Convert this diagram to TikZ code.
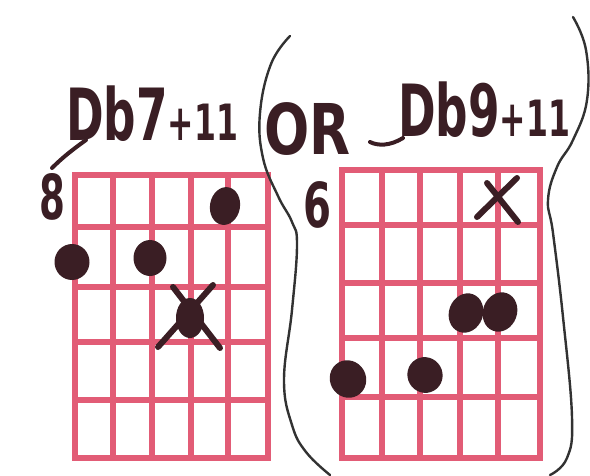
\documentclass[tikz,border=0pt]{standalone}
\usepackage{fontspec}
\setmainfont{DejaVu Sans}
\usetikzlibrary{shapes.geometric}
\definecolor{ink}{RGB}{58,30,36}
\definecolor{gridred}{RGB}{226,92,118}
\definecolor{pen}{RGB}{50,50,50}
\tikzset{
  gridline/.style={draw=gridred, line width=5.5pt, line cap=rect},
  blob/.style={ellipse, fill=ink, inner sep=0pt},
  xstroke/.style={draw=ink, line width=6pt, line cap=round},
  paren/.style={draw=pen, line width=2.4pt, line cap=round},
  hand/.style={text=ink, font=\bfseries, inner sep=0pt, anchor=base west},
}
\begin{document}
\begin{tikzpicture}[x=1pt, y=-1pt]
\useasboundingbox[fill=white] (0,0) rectangle (590,475);

% ---- left grid ----
\foreach \xx in {75,113,152,191,228,268}
  \draw[gridline] (\xx,175) -- (\xx,458);
\foreach \yy in {175,227,287,342,400,458}
  \draw[gridline] (75,\yy) -- (268,\yy);

% ---- right grid ----
\foreach \xx in {342,382,420,460,498,540}
  \draw[gridline] (\xx,170) -- (\xx,458);
\foreach \yy in {170,225,283,338,397,458}
  \draw[gridline] (342,\yy) -- (540,\yy);

% ---- titles ----
\node[hand, xscale=0.63] (t1) at (66,140)
  {{\fontsize{72}{72}\selectfont Db7}{\fontsize{50}{50}\selectfont +11}};
\node[hand, xscale=0.76] (t2) at (264,154)
  {\fontsize{70}{70}\selectfont OR};
\node[hand, xscale=0.63] (t3) at (398,136)
  {{\fontsize{72}{72}\selectfont Db9}{\fontsize{50}{50}\selectfont +11}};
\draw[draw=ink, line width=4pt, line cap=round] (86,140) .. controls (72,150) and (62,158) .. (52,168);
\draw[draw=ink, line width=4pt, line cap=round] (403,138) .. controls (390,146) and (378,146) .. (370,142);

% ---- fret numbers ----
\node[text=ink, font=\bfseries, inner sep=0pt, xscale=0.6] (f8) at (52,197) {\fontsize{62}{62}\selectfont 8};
\node[text=ink, font=\bfseries, inner sep=0pt, xscale=0.65] (f6) at (318,205) {\fontsize{62}{62}\selectfont 6};

% ---- left chord ----
\node[blob, minimum width=30pt, minimum height=38pt, rotate=-10] (l1) at (225,206) {};
\node[blob, minimum width=35pt, minimum height=36pt] (l2) at (72,262) {};
\node[blob, minimum width=33pt, minimum height=36pt] (l3) at (150,258) {};
\node[blob, minimum width=28pt, minimum height=40pt] (lxc) at (190,318) {};
\draw[xstroke] (158,347) -- (213,285);
\draw[xstroke] (173,287) -- (220,348);

% ---- right chord ----
\draw[xstroke] (477,217) -- (517,178);
\draw[xstroke] (487,183) -- (518,222);
\node[blob, minimum width=34pt, minimum height=40pt, rotate=-20] (r1) at (466,313) {};
\node[blob, minimum width=34pt, minimum height=40pt, rotate=-20] (r2) at (500,312) {};
\node[blob, minimum width=36pt, minimum height=38pt, rotate=30] (r3) at (348,379) {};
\node[blob, minimum width=35pt, minimum height=36pt, rotate=30] (r4) at (425,375) {};

% ---- brackets ----
\draw[paren] plot[smooth, tension=0.7] coordinates {(290,36) (271,64) (260,113) (263,158) (278,196) (292,222) (297,245) (292,310) (284,380) (292,425) (306,452) (330,475)};
\draw[paren] plot[smooth, tension=0.7] coordinates {(573,17) (586,50) (587,100) (573,140) (557,167) (548,200) (553,233) (563,317) (572,417) (567,458) (550,475)};
\end{tikzpicture}
\end{document}
